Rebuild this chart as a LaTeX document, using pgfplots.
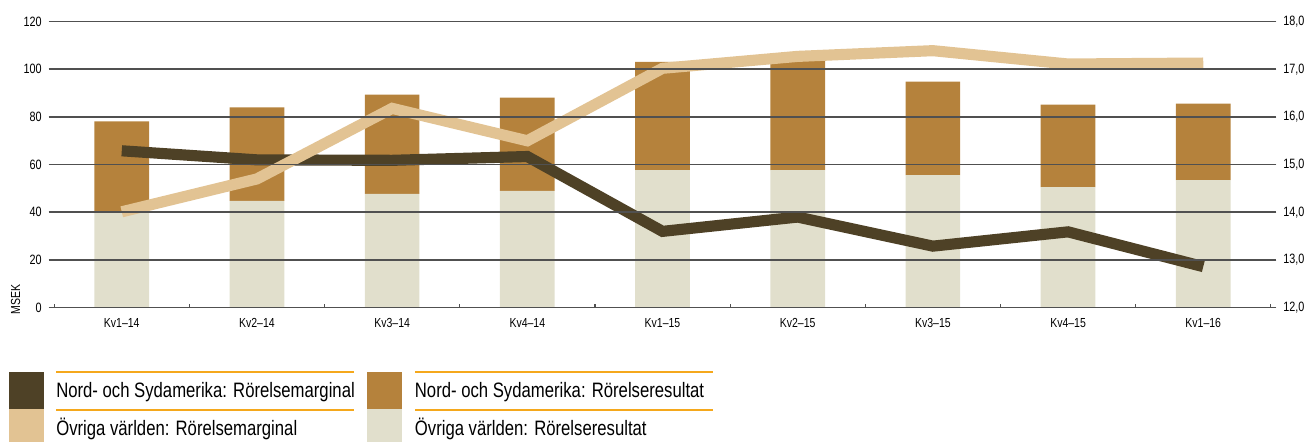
\documentclass[border=0pt]{standalone}
\usepackage{fontspec}
\setmainfont{Liberation Sans}[FakeStretch=0.8]
\usepackage{pgfplots}
\pgfplotsset{compat=1.18}
\definecolor{darkline}{HTML}{4E4126}
\definecolor{lightline}{HTML}{E2C393}
\definecolor{barbrown}{HTML}{B5823C}
\definecolor{barlight}{HTML}{E1DFCC}
\definecolor{gridc}{HTML}{505050}
\definecolor{legorange}{HTML}{F5A81C}
\begin{document}
\begin{tikzpicture}
\pgfplotsset{
  base/.style={
    scale only axis, width=612pt, height=143.9pt,
    at={(27.25pt,0pt)}, anchor=south west,
    xmin=-0.5, xmax=8.5,
    /pgf/number format/assume math mode=true,
    tick label style={font=\fontsize{6.8}{8}\selectfont},
    major tick length=2.75pt,
  }
}
\begin{axis}[base,
  ymin=0, ymax=120,
  ybar stacked, bar width=27.5pt,
  axis x line*=bottom, axis y line*=left,
  y axis line style={draw=none},
  x axis line style={gridc, line width=0.8pt, -},
  ytick={0,20,...,120},
  ytick align=outside,
  y tick style={gridc, line width=0.8pt},
  xtick={0,...,8},
  xticklabels={Kv1–14,Kv2–14,Kv3–14,Kv4–14,Kv1–15,Kv2–15,Kv3–15,Kv4–15,Kv1–16},
  major x tick style={draw=none},
  minor xtick={-0.5,0.5,...,8.5},
  xtick align=inside,
  minor tick length=2pt,
  minor x tick style={gridc, line width=0.6pt},
  x tick label style={yshift=-1.8pt, font=\fontsize{6.6}{8}\selectfont},
]
\addplot[fill=barlight, draw=none] coordinates {(0,39.7)(1,44.8)(2,47.7)(3,49.0)(4,57.7)(5,57.7)(6,55.6)(7,50.6)(8,53.5)};
\addplot[fill=barbrown, draw=none] coordinates {(0,38.4)(1,39.2)(2,41.7)(3,39.1)(4,45.4)(5,46.3)(6,39.2)(7,34.6)(8,32.1)};
\end{axis}
\begin{axis}[base,
  ymin=12, ymax=18,
  ytick={12,...,18},
  axis x line=none, axis y line*=right,
  y axis line style={draw=none},
  ytick align=outside,
  y tick style={gridc, line width=0.8pt},
  ymajorgrids, grid style={gridc, line width=0.8pt},
  axis on top,
  yticklabel style={/pgf/number format/.cd, fixed, fixed zerofill, precision=1, use comma},
]
\addplot[darkline, line width=5.6pt, line join=miter, no markers] coordinates {(0,15.29)(1,15.10)(2,15.09)(3,15.17)(4,13.60)(5,13.90)(6,13.29)(7,13.59)(8,12.86)};
\addplot[lightline, line width=5.6pt, line join=miter, no markers] coordinates {(0,14.01)(1,14.70)(2,16.18)(3,15.50)(4,17.02)(5,17.27)(6,17.39)(7,17.11)(8,17.13)};
\end{axis}
\node[rotate=90, font=\fontsize{6.6}{8}\selectfont, inner sep=0] at (7.9pt,4.25pt) {MSEK};
% legend
\fill[darkline] (4.6pt,-32.25pt) rectangle (22.35pt,-51.1pt);
\fill[lightline] (4.6pt,-51.1pt) rectangle (22.35pt,-67.75pt);
\fill[barbrown] (184.4pt,-32.25pt) rectangle (202.3pt,-51.1pt);
\fill[barlight] (184.4pt,-51.1pt) rectangle (202.3pt,-67.75pt);
\fill[legorange] (28.1pt,-32.9pt) rectangle (178pt,-31.9pt);
\fill[legorange] (28.1pt,-51.8pt) rectangle (178pt,-50.8pt);
\fill[legorange] (208.5pt,-32.9pt) rectangle (358.5pt,-31.9pt);
\fill[legorange] (208.5pt,-51.8pt) rectangle (358.5pt,-50.8pt);
\node[anchor=base west, inner sep=0, font=\fontsize{10.5}{12}\selectfont] at (28.1pt,-45.25pt) {Nord- och Sydamerika: Rörelsemarginal};
\node[anchor=base west, inner sep=0, font=\fontsize{10.5}{12}\selectfont] at (28.1pt,-64.1pt) {Övriga världen: Rörelsemarginal};
\node[anchor=base west, inner sep=0, font=\fontsize{10.5}{12}\selectfont] at (208.5pt,-45.25pt) {Nord- och Sydamerika: Rörelseresultat};
\node[anchor=base west, inner sep=0, font=\fontsize{10.5}{12}\selectfont] at (208.5pt,-64.1pt) {Övriga världen: Rörelseresultat};
\path[use as bounding box] (0pt,-67.75pt) rectangle (655.5pt,154.75pt);
\end{tikzpicture}
\end{document}
